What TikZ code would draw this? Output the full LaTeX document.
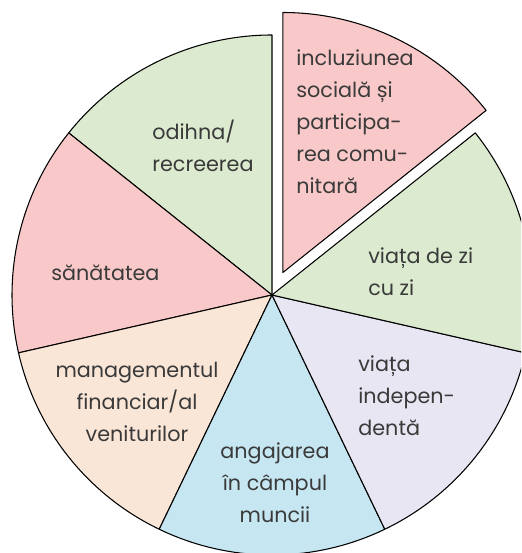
\documentclass[tikz,border=0pt]{standalone}
\usepackage{fontspec}
\setmainfont{Poppins}
\definecolor{roz}{HTML}{F9C9C9}
\definecolor{verde}{HTML}{DCEBD0}
\definecolor{piersica}{HTML}{FAE6D7}
\definecolor{albastru}{HTML}{C6E7F2}
\definecolor{lila}{HTML}{E7E6F2}
\definecolor{textgri}{HTML}{3A3A3A}
\begin{document}
\begin{tikzpicture}[
    felie/.style={draw=black, line width=0.6pt, line join=round},
    eticheta/.style={text=textgri, font=\fontsize{11.8pt}{18.2pt}\selectfont, inner sep=0pt}
  ]
        \def \R {5.2};
        \def \Ox {0.217};
        \def \Oy {0.45};

        \useasboundingbox (-5.44,-5.16) rectangle (4.98,5.9);
        \clip (-5.44,-5.16) rectangle (4.98,5.9);

        % felii
        \filldraw [felie, fill=verde] (0,0) -- (90:\R) arc [start angle=90, end angle=141.43, radius=\R] -- cycle;
        \filldraw [felie, fill=roz] (0,0) -- (141.43:\R) arc [start angle=141.43, end angle=192.86, radius=\R] -- cycle;
        \filldraw [felie, fill=piersica] (0,0) -- (192.86:\R) arc [start angle=192.86, end angle=244.29, radius=\R] -- cycle;
        \filldraw [felie, fill=albastru] (0,0) -- (244.29:\R) arc [start angle=244.29, end angle=295.71, radius=\R] -- cycle;
        \filldraw [felie, fill=lila] (0,0) -- (295.71:\R) arc [start angle=295.71, end angle=347.14, radius=\R] -- cycle;
        \filldraw [felie, fill=verde] (0,0) -- (-12.86:\R) arc [start angle=-12.86, end angle=38.57, radius=\R] -- cycle;

        % felia scoasa
        \filldraw [felie, fill=roz] (\Ox, \Oy) -- ++(38.57:\R) arc [start angle=38.57, end angle=90, radius=\R] -- cycle;

        % etichete
        \node [eticheta, anchor=west, align=left] (incluziune) at (0.48, 3.46) {incluziunea\\socială și\\participa-\\rea comu-\\nitară};
        \node [eticheta, anchor=west, align=left] (zilnic) at (1.92, 0.47) {viața de zi\\cu zi};
        \node [eticheta, anchor=west, align=left] (odihna) at (-2.4, 2.98) {odihna/\\recreerea};
        \node [eticheta, anchor=west, align=left] (sanatate) at (-4.42, 0.44) {sănătatea};
        \node [eticheta, align=center] (venituri) at (-2.7, -2.14) {managementul\\financiar/al\\veniturilor};
        \node [eticheta, align=center] (munca) at (0.06, -3.76) {angajarea\\în câmpul\\muncii};
        \node [eticheta, anchor=west, align=left] (independenta) at (1.72, -2.02) {viața\\indepen-\\dentă};
    \end{tikzpicture}
\end{document}
